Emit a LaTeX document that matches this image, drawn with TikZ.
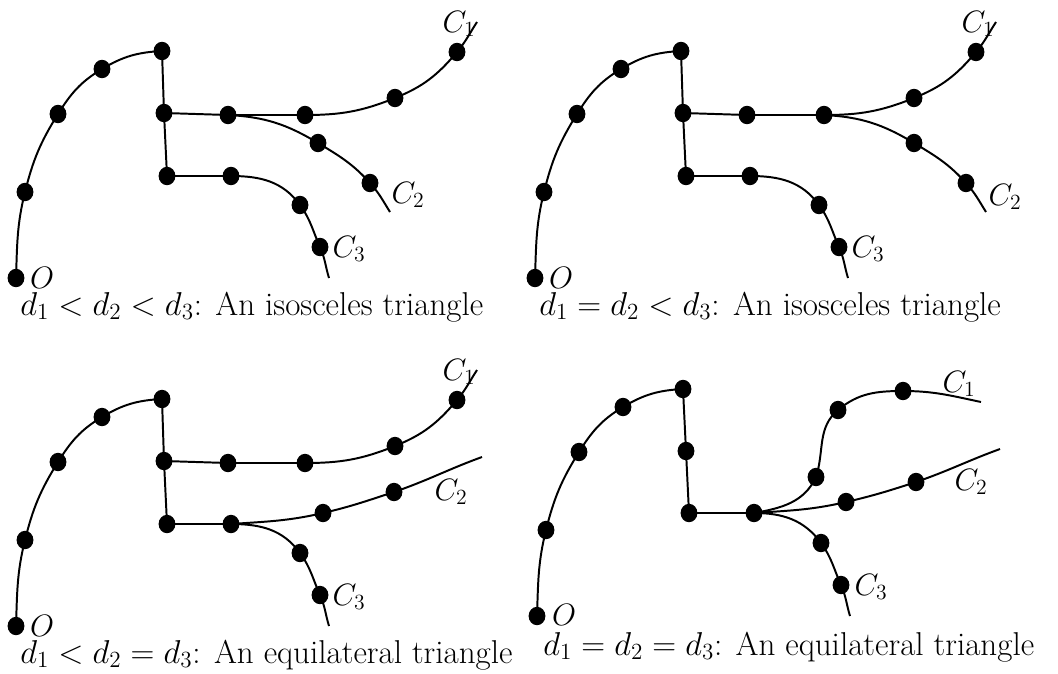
\RequirePackage{fix-cm}
\documentclass[tikz,border=0pt]{standalone}
\usetikzlibrary{shapes.geometric}
\begin{document}
\begin{tikzpicture}[
    x=0.025cm, y=-0.025cm,
    mydot/.style={ellipse, fill=black, inner sep=0pt, minimum width=0.42cm, minimum height=0.46cm},
    mycurve/.style={line width=1.4pt},
    mylabel/.style={font=\fontsize{22}{26}\selectfont, inner sep=0pt},
    mycaption/.style={font=\fontsize{23.5}{28}\selectfont, inner sep=0pt, anchor=base west},
]
\useasboundingbox (0,0) rectangle (1058,673);

% top left: d1 < d2 < d3
\begin{scope}
\node[mydot] (ao) at (16,278) {};
\node[mydot] (a1) at (25,192) {};
\node[mydot] (a2) at (58,114) {};
\node[mydot] (a3) at (102,69) {};
\node[mydot] (a4) at (162,51) {};
\node[mydot] (a5) at (164,113) {};
\node[mydot] (a6) at (167,176) {};
\node[mydot] (aq1) at (228,115) {};
\node[mydot] (aq2) at (305,115) {};
\node[mydot] (aq3) at (395,98) {};
\node[mydot] (aq4) at (457,52) {};
\node[mydot] (ar1) at (318,143) {};
\node[mydot] (ar2) at (370,183) {};
\node[mydot] (as1) at (231,176) {};
\node[mydot] (as2) at (300,205) {};
\node[mydot] (as3) at (320,247) {};
\coordinate (aend1) at (477,22);
\coordinate (aend2) at (390,212);
\coordinate (aend3) at (329,278);
\draw[mycurve] (ao.center) to[out=88,in=-104] (a1.center) to[out=76,in=-122] (a2.center)
    to[out=58,in=-149] (a3.center) to[out=31,in=183] (a4.center) -- (a5.center) -- (a6.center);
\draw[mycurve] (a5.center) -- (aq1.center) -- (aq2.center) to[out=0,in=202] (aq3.center)
    to[out=22,in=230] (aq4.center) to[out=50,in=237] (aend1);
\draw[mycurve] (aq1.center) to[out=-3,in=149] (ar1.center) to[out=-31,in=132] (ar2.center) to[out=-48,in=122] (aend2);
\draw[mycurve] (a6.center) -- (as1.center) to[out=0,in=126] (as2.center) to[out=-54,in=114] (as3.center) to[out=-66,in=107] (aend3);
\node[mylabel] (alo) at (42,278) {$O$};
\node[mylabel] (alc1) at (459,24) {$C_1$};
\node[mylabel] (alc2) at (408,195) {$C_2$};
\node[mylabel] (alc3) at (349,249) {$C_3$};
\node[mycaption] (acap) at (20,315) {$d_1<d_2<d_3$: An isosceles triangle};
\end{scope}

% top right: d1 = d2 < d3
\begin{scope}[shift={(519,0)}]
\node[mydot] (bo) at (16,278) {};
\node[mydot] (b1) at (25,192) {};
\node[mydot] (b2) at (58,114) {};
\node[mydot] (b3) at (102,69) {};
\node[mydot] (b4) at (162,51) {};
\node[mydot] (b5) at (164,113) {};
\node[mydot] (b6) at (167,176) {};
\node[mydot] (bq1) at (228,115) {};
\node[mydot] (bq2) at (305,115) {};
\node[mydot] (bq3) at (395,98) {};
\node[mydot] (bq4) at (457,52) {};
\node[mydot] (br1) at (395,143) {};
\node[mydot] (br2) at (447,183) {};
\node[mydot] (bs1) at (231,176) {};
\node[mydot] (bs2) at (300,205) {};
\node[mydot] (bs3) at (320,247) {};
\coordinate (bend1) at (477,22);
\coordinate (bend2) at (467,212);
\coordinate (bend3) at (329,278);
\draw[mycurve] (bo.center) to[out=88,in=-104] (b1.center) to[out=76,in=-122] (b2.center)
    to[out=58,in=-149] (b3.center) to[out=31,in=183] (b4.center) -- (b5.center) -- (b6.center);
\draw[mycurve] (b5.center) -- (bq1.center) -- (bq2.center) to[out=0,in=202] (bq3.center)
    to[out=22,in=230] (bq4.center) to[out=50,in=237] (bend1);
\draw[mycurve] (bq2.center) to[out=-3,in=149] (br1.center) to[out=-31,in=132] (br2.center) to[out=-48,in=122] (bend2);
\draw[mycurve] (b6.center) -- (bs1.center) to[out=0,in=126] (bs2.center) to[out=-54,in=114] (bs3.center) to[out=-66,in=107] (bend3);
\node[mylabel] (blo) at (42,278) {$O$};
\node[mylabel] (blc1) at (459,24) {$C_1$};
\node[mylabel] (blc2) at (486,197) {$C_2$};
\node[mylabel] (blc3) at (349,249) {$C_3$};
\node[mycaption] (bcap) at (20,315) {$d_1=d_2<d_3$: An isosceles triangle};
\end{scope}

% bottom left: d1 < d2 = d3
\begin{scope}[shift={(0,348)}]
\node[mydot] (co) at (16,278) {};
\node[mydot] (c1) at (25,192) {};
\node[mydot] (c2) at (58,114) {};
\node[mydot] (c3) at (102,69) {};
\node[mydot] (c4) at (162,51) {};
\node[mydot] (c5) at (164,113) {};
\node[mydot] (c6) at (167,176) {};
\node[mydot] (cq1) at (228,115) {};
\node[mydot] (cq2) at (305,115) {};
\node[mydot] (cq3) at (395,98) {};
\node[mydot] (cq4) at (457,52) {};
\node[mydot] (cr1) at (323,165) {};
\node[mydot] (cr2) at (394,144) {};
\node[mydot] (cs1) at (231,176) {};
\node[mydot] (cs2) at (300,205) {};
\node[mydot] (cs3) at (320,247) {};
\coordinate (cend1) at (477,22);
\coordinate (cend2) at (482,109);
\coordinate (cend3) at (329,278);
\draw[mycurve] (co.center) to[out=88,in=-104] (c1.center) to[out=76,in=-122] (c2.center)
    to[out=58,in=-149] (c3.center) to[out=31,in=183] (c4.center) -- (c5.center) -- (c6.center);
\draw[mycurve] (c5.center) -- (cq1.center) -- (cq2.center) to[out=0,in=202] (cq3.center)
    to[out=22,in=230] (cq4.center) to[out=50,in=237] (cend1);
\draw[mycurve] (cs1.center) to[out=4,in=193] (cr1.center) to[out=13,in=198] (cr2.center) to[out=19,in=200] (cend2);
\draw[mycurve] (c6.center) -- (cs1.center) to[out=0,in=126] (cs2.center) to[out=-54,in=114] (cs3.center) to[out=-66,in=107] (cend3);
\node[mylabel] (clo) at (42,278) {$O$};
\node[mylabel] (clc1) at (459,24) {$C_1$};
\node[mylabel] (clc2) at (451,144) {$C_2$};
\node[mylabel] (clc3) at (349,249) {$C_3$};
\node[mycaption] (ccap) at (20,315) {$d_1<d_2=d_3$: An equilateral triangle};
\end{scope}

% bottom right: d1 = d2 = d3
\begin{scope}[shift={(521,338)}]
\node[mydot] (do) at (16,278) {};
\node[mydot] (d1) at (25,192) {};
\node[mydot] (d2) at (58,114) {};
\node[mydot] (d3) at (102,69) {};
\node[mydot] (d4) at (162,51) {};
\node[mydot] (d5) at (165,113) {};
\node[mydot] (d6) at (168,175) {};
\node[mydot] (ds1) at (233,175) {};
\node[mydot] (du1) at (295,139) {};
\node[mydot] (du2) at (317,72) {};
\node[mydot] (du3) at (382,53) {};
\node[mydot] (dr1) at (325,164) {};
\node[mydot] (dr2) at (395,144) {};
\node[mydot] (ds2) at (300,205) {};
\node[mydot] (ds3) at (320,247) {};
\coordinate (dend1) at (460,64);
\coordinate (dend2) at (479,111);
\coordinate (dend3) at (329,278);
\draw[mycurve] (do.center) to[out=88,in=-104] (d1.center) to[out=76,in=-122] (d2.center)
    to[out=58,in=-149] (d3.center) to[out=31,in=183] (d4.center) -- (d5.center) -- (d6.center) -- (ds1.center);
\draw[mycurve] (ds1.center) to[out=10,in=245] (du1.center) to[out=72,in=220] (du2.center)
    to[out=40,in=180] (du3.center) to[out=0,in=168] (dend1);
\draw[mycurve] (ds1.center) to[out=4,in=193] (dr1.center) to[out=13,in=198] (dr2.center) to[out=19,in=200] (dend2);
\draw[mycurve] (ds1.center) to[out=0,in=126] (ds2.center) to[out=-54,in=114] (ds3.center) to[out=-66,in=107] (dend3);
\node[mylabel] (dlo) at (43,277) {$O$};
\node[mylabel] (dlc1) at (438,46) {$C_1$};
\node[mylabel] (dlc2) at (450,144) {$C_2$};
\node[mylabel] (dlc3) at (350,249) {$C_3$};
\node[mycaption] (dcap) at (22,317) {$d_1=d_2=d_3$: An equilateral triangle};
\end{scope}
\end{tikzpicture}
\end{document}
